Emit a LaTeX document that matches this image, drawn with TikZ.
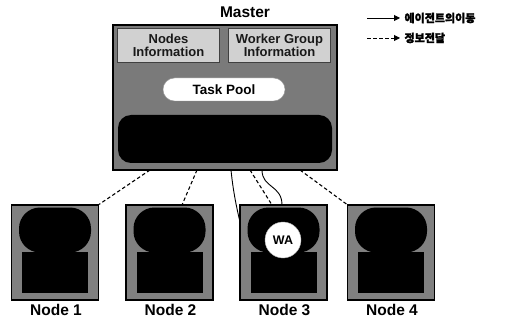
\documentclass[tikz,border=0pt]{standalone}
\usepackage{fontspec}
\setmainfont{Liberation Sans}
\newfontfamily\kofont[FakeBold=2]{Noto Sans CJK KR}
\usetikzlibrary{shapes.misc,calc,arrows.meta}
\begin{document}
\begin{tikzpicture}[x=1pt,y=-1pt,
  masterbox/.style={draw=black,line width=1.4pt,fill=black!52,minimum width=224pt,minimum height=145pt,inner sep=0pt},
  infobox/.style={draw=black!75,line width=0.6pt,fill=black!18,minimum width=102pt,minimum height=34pt,inner sep=0pt,align=center,font=\bfseries\fontsize{13}{13.5}\selectfont,text=black!90},
  pill/.style={rounded rectangle,fill=white,draw=black!40,minimum width=122pt,minimum height=23pt,inner sep=0pt,font=\bfseries\fontsize{13.5}{14}\selectfont},
  panel/.style={fill=black,rounded corners=13pt,minimum width=214pt,minimum height=48pt,inner sep=0pt},
  nodebox/.style={draw=black,line width=1.3pt,fill=black!50,minimum width=87pt,minimum height=95pt,inner sep=0pt},
  upperpart/.style={fill=black,rounded corners=21pt,minimum width=72pt,minimum height=45pt,inner sep=0pt},
  lowerpart/.style={fill=black,minimum width=66pt,minimum height=41pt,inner sep=0pt},
  caption/.style={font=\bfseries\fontsize{15.5}{16}\selectfont},
  agent/.style={circle,fill=white,draw=black!30,minimum size=36pt,inner sep=0pt,font=\bfseries\fontsize{12.5}{13}\selectfont},
  dataline/.style={dashed,dash pattern=on 3.5pt off 2.5pt,line width=1.1pt},
  moveline/.style={line width=0.9pt},
  legendtext/.style={font=\kofont\bfseries\fontsize{11}{12}\selectfont,anchor=west}
]
\useasboundingbox (0,0) rectangle (521,320);

% master with its contents
\node[masterbox] (m) at (225,97.5) {};
\node[caption] (mtitle) at (245,12) {Master};
\node[infobox] (ninfo) at (168.5,45.5) {Nodes\\Information};
\node[infobox] (winfo) at (279.5,45.5) {Worker Group\\Information};
\node[pill] (pool) at (224,89.5) {Task Pool};
\node[panel] (mpanel) at (225,139) {};

% worker nodes
\foreach \i/\cx in {1/55,2/169.5,3/283.5,4/391}{
  \node[nodebox] (n\i) at (\cx,252.5) {};
  \node[upperpart] (u\i) at (\cx,230) {};
  \node[lowerpart] (l\i) at (\cx,272.5) {};
  \node[caption] (c\i) at (\cx+1,310) {Node \i};
}
\node[agent] (wa) at (283,240) {WA};

% information exchange
\coordinate (m1) at (150,170);
\coordinate (m2) at (197,170);
\coordinate (m3) at (250,170);
\coordinate (m4) at (300,170);
\coordinate (m5) at (231,170);
\coordinate (m6) at (262,170);
\coordinate (t2) at (182,205);
\coordinate (t3) at (272,205);
\coordinate (t5) at (240,222);
\coordinate (t6) at (282,205);
\draw[dataline] (m1) -- (n1.north east);
\draw[dataline] (m2) -- (t2);
\draw[dataline] (m3) -- (t3);
\draw[dataline] (m4) -- (n4.north west);

% agent migration
\draw[moveline] (m5) .. controls (233,190) and (236,205) .. (t5);
\draw[moveline] (m6) .. controls (262,188) and (282,185) .. (t6);

% legend
\coordinate (la) at (367,18);
\coordinate (lb) at (400,18);
\coordinate (lc) at (367,38);
\coordinate (ld) at (400,38);
\draw[moveline,-{Triangle[length=6pt,width=6pt]}] (la) -- (lb);
\draw[dataline,line width=0.9pt,-{Triangle[length=6pt,width=6pt]}] (lc) -- (ld);
\node[legendtext] (lt1) at (401,18) {에이전트의이동};
\node[legendtext] (lt2) at (401,38) {정보전달};
\end{tikzpicture}
\end{document}
